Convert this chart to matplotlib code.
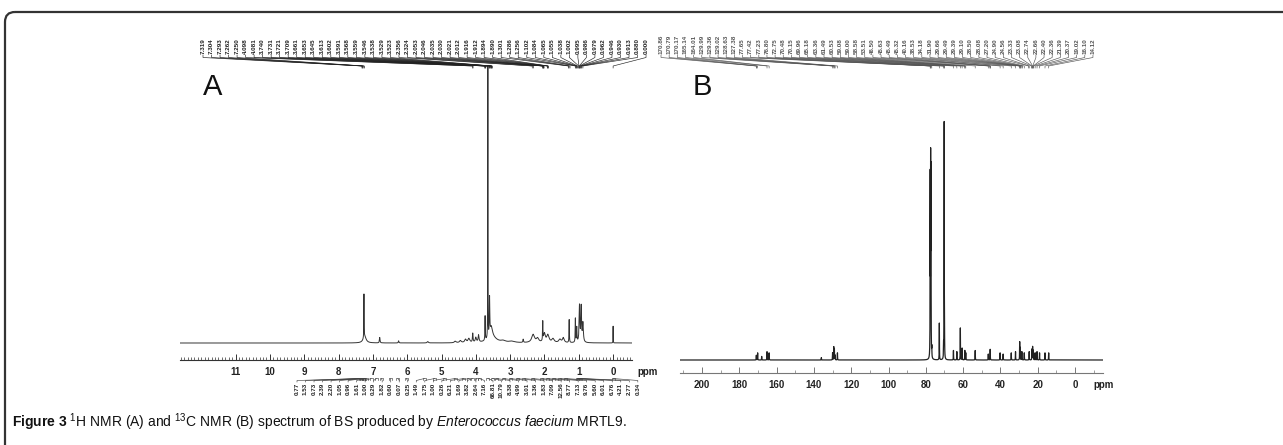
import numpy as np
import matplotlib
matplotlib.use("Agg")
import matplotlib.pyplot as plt
from matplotlib.patches import FancyBboxPatch
from matplotlib.ticker import MultipleLocator

plt.rcParams['font.family'] = ['Liberation Sans', 'DejaVu Sans']
plt.rcParams['mathtext.fontset'] = 'custom'
plt.rcParams['mathtext.rm'] = 'Liberation Sans'
plt.rcParams['mathtext.it'] = 'Liberation Sans:italic'
plt.rcParams['mathtext.bf'] = 'Liberation Sans:bold'

W, H = 1283, 445

# 1H NMR peaks (ppm, relative height, half width)
h_ppm = [7.26, 7.24, 6.80, 6.25, 5.40, 4.60, 4.45, 4.30, 4.20, 4.09, 4.00, 3.92,
         3.73, 3.65, 3.60, 3.55, 3.52, 3.20, 2.95, 2.62, 2.33, 2.20, 2.05, 2.00,
         1.90, 1.75, 1.55, 1.45, 1.28, 1.10, 1.06, 0.98, 0.93, 0.88, 0.00]
h_height = [0.160, 0.025, 0.020, 0.008, 0.005, 0.006, 0.008, 0.012, 0.015, 0.033,
            0.018, 0.026, 0.090, 1.000, 0.140, 0.040, 0.020, 0.006, 0.005, 0.012,
            0.030, 0.015, 0.070, 0.032, 0.028, 0.014, 0.012, 0.018, 0.085, 0.088,
            0.055, 0.135, 0.130, 0.070, 0.062]
h_width = [0.004, 0.05, 0.01, 0.01, 0.02, 0.03, 0.03, 0.03, 0.03, 0.01, 0.02, 0.015,
           0.006, 0.003, 0.008, 0.04, 0.15, 0.08, 0.10, 0.01, 0.05, 0.04, 0.006, 0.03,
           0.04, 0.04, 0.04, 0.03, 0.006, 0.006, 0.008, 0.012, 0.012, 0.015, 0.003]

h_peak_labels = ["7.319", "7.304", "7.293", "7.262", "7.250", "4.098", "4.081", "3.740",
                 "3.731", "3.721", "3.709", "3.661", "3.653", "3.645", "3.613", "3.602",
                 "3.591", "3.568", "3.559", "3.546", "3.538", "3.529", "3.523", "2.356",
                 "2.324", "2.053", "2.046", "2.035", "2.030", "2.021", "2.012", "1.916",
                 "1.912", "1.894", "1.890", "1.301", "1.286", "1.256", "1.102", "1.084",
                 "1.065", "1.055", "1.038", "1.002", "0.995", "0.986", "0.979", "0.962",
                 "0.946", "0.930", "0.913", "0.880", "0.000"]

h_integrals = ["0.77", "1.53", "0.73", "2.39", "2.20", "1.05", "0.96", "1.61", "1.00",
               "0.29", "1.82", "0.60", "0.07", "0.25", "1.49", "1.75", "1.00", "0.26",
               "6.21", "1.69", "3.82", "2.64", "7.16", "66.81", "10.79", "8.38", "4.99",
               "3.01", "1.36", "1.83", "7.09", "12.56", "8.77", "7.13", "9.76", "5.60",
               "6.01", "6.76", "4.21", "2.77", "0.34"]
h_integral_ppm = [7.36, 7.34, 7.32, 7.30, 7.28, 7.26, 7.24, 7.20, 7.05, 6.90, 6.75, 6.50,
                  6.27, 6.03, 5.50, 5.20, 4.90, 4.60, 4.35, 4.20, 4.10, 3.98, 3.90, 3.65,
                  3.52, 3.40, 3.20, 3.00, 2.80, 2.60, 2.35, 2.08, 1.92, 1.75, 1.55, 1.40,
                  1.05, 1.02, 0.99, 0.96, 0.00]

# 13C NMR peaks
c_ppm = [170.86, 170.17, 168.0, 165.14, 164.01, 136.0, 129.99, 129.36, 129.02, 128.63,
         127.38, 77.65, 77.42, 77.23, 76.80, 72.75, 70.48, 70.15, 69.96, 65.18, 63.36,
         61.49, 60.53, 59.08, 58.58, 53.51, 46.50, 45.49, 40.16, 38.53, 34.18, 31.90,
         29.66, 29.39, 28.50, 27.20, 24.56, 23.08, 22.74, 22.40, 21.39, 20.37, 19.02,
         16.10, 14.12]
c_height = [0.020, 0.030, 0.015, 0.035, 0.030, 0.010, 0.030, 0.055, 0.045, 0.020,
            0.030, 0.740, 0.780, 0.750, 0.040, 0.155, 0.050, 1.000, 0.050, 0.040, 0.035,
            0.135, 0.050, 0.040, 0.030, 0.040, 0.025, 0.045, 0.030, 0.025, 0.030, 0.035,
            0.075, 0.050, 0.035, 0.030, 0.035, 0.045, 0.055, 0.040, 0.030, 0.035, 0.030,
            0.030, 0.030]
c_width = 0.06

c_peak_labels = ["170.86", "170.79", "170.17", "165.14", "164.01", "129.99", "129.36",
                 "129.02", "128.63", "127.38", "77.65", "77.42", "77.23", "76.80", "72.75",
                 "70.48", "70.15", "69.96", "65.18", "63.36", "61.49", "60.53", "59.08",
                 "59.00", "58.58", "53.51", "46.50", "45.63", "45.49", "45.32", "40.16",
                 "38.53", "34.18", "31.90", "29.66", "29.49", "29.39", "29.10", "28.50",
                 "28.08", "27.20", "24.90", "24.56", "23.33", "23.08", "22.74", "22.66",
                 "22.40", "22.36", "21.39", "20.37", "19.02", "16.10", "14.12"]


def spectrum(grid, pos, hts, wid):
    wid = np.broadcast_to(wid, len(pos))
    y = np.zeros_like(grid)
    for p, h, w in zip(pos, hts, wid):
        y += h * w ** 2 / ((grid - p) ** 2 + w ** 2)
    return y


fig = plt.figure(figsize=(W / 100, H / 100), dpi=100)
fig.patch.set_facecolor('white')


def px_axes(x0, y0, x1, y1):
    return fig.add_axes([x0 / W, 1 - y1 / H, (x1 - x0) / W, (y1 - y0) / H])


ov = fig.add_axes([0, 0, 1, 1])
ov.set_xlim(0, W)
ov.set_ylim(H, 0)
ov.axis('off')

# panel A
axA = px_axes(180, 60, 632, 360)
gridA = np.arange(-0.55, 12.62, 0.0005)
axA.plot(gridA, spectrum(gridA, h_ppm, h_height, h_width), color='#333333', lw=0.7)
axA.set_xlim(12.62, -0.55)
axA.set_ylim(-17 / 270, 283 / 270)

# panel B
axB = px_axes(680, 60, 1103, 373)
gridB = np.arange(-15, 211.8, 0.01)
axB.plot(gridB, spectrum(gridB, c_ppm, c_height, c_width), color='#222222', lw=0.9)
axB.set_xlim(211.8, -15)
axB.set_ylim(-13 / 237, 300 / 237)

for ax, major, minor, col in [(axA, 1, 0.1, '#333333'), (axB, 20, 10, '#777777')]:
    ax.set_facecolor('none')
    for s in ['top', 'left', 'right']:
        ax.spines[s].set_visible(False)
    ax.spines['bottom'].set_color(col)
    ax.spines['bottom'].set_linewidth(0.8)
    ax.set_yticks([])
    ax.xaxis.set_major_locator(MultipleLocator(major))
    ax.xaxis.set_minor_locator(MultipleLocator(minor))
    ax.tick_params(axis='x', which='major', direction='in', length=4, width=0.7,
                   color=col, labelsize=7, pad=5)
    ax.tick_params(axis='x', which='minor', direction='in', length=2.5, width=0.5, color=col)

axA.set_xticks(range(0, 12))
axA.set_xticklabels([str(v) for v in range(0, 12)])
axB.set_xticks(range(0, 201, 20))
axB.set_xticklabels([str(v) for v in range(0, 201, 20)])
for ax in (axA, axB):
    for lab in ax.get_xticklabels():
        lab.set_fontweight('bold')
        lab.set_color('#222222')

ov.text(637, 372, "ppm", fontsize=7, fontweight='bold', color='#222222', va='center', ha='left')
ov.text(1093, 385, "ppm", fontsize=7, fontweight='bold', color='#222222', va='center', ha='left')

ov.text(203, 95, "A", fontsize=21, va='baseline', ha='left', color='#111111')
ov.text(693, 95, "B", fontsize=21, va='baseline', ha='left', color='#111111')


def ppm_px(ax, v):
    disp = ax.transData.transform((v, 0))
    return ov.transData.inverted().transform(disp)[0]


# peak-pick labels on top
for labels, ax, x0, step, col in [(h_peak_labels, axA, 203, 8.52, '#222222'),
                                  (c_peak_labels, axB, 661, 8.15, '#555555')]:
    for j, s in enumerate(labels):
        xl = x0 + step * j
        xp = ppm_px(ax, float(s))
        ov.text(xl, 54, s, rotation=90, ha='center', va='bottom', fontsize=4.5,
                fontweight='bold', color=col)
        ov.plot([xl, xl, xp, xp], [55, 57.5, 66, 68], color=col, lw=0.45)

# integration values under panel A
for i, s in enumerate(h_integrals):
    xl = 297 + 8.52 * i
    xp = ppm_px(axA, h_integral_ppm[i])
    ov.text(xl, 382.5, s, rotation=90, ha='center', va='top', fontsize=4.5,
            fontweight='bold', color='#222222')
    ov.plot([xl, xl, xp], [382, 380.5, 378.5], color='#444444', lw=0.45)
    ov.plot([xp - 1.5, xp - 1.5, xp + 1.5, xp + 1.5], [379.5, 377.5, 377.5, 379.5],
            color='#444444', lw=0.45)

# frame
ov.add_patch(FancyBboxPatch((5, 12), 1400, 600, boxstyle="round,pad=0,rounding_size=10",
                            ec='#333333', fc='none', lw=1.6, clip_on=False))

caption = (r"$\mathbf{Figure\ 3}$ ${}^{1}$H NMR (A) and ${}^{13}$C NMR (B) spectrum of BS "
           r"produced by $\mathit{Enterococcus\ faecium}$ MRTL9.")
ov.text(12, 427, caption, fontsize=10, va='baseline', ha='left', color='#111111')

fig.savefig("out.png", dpi=100)
